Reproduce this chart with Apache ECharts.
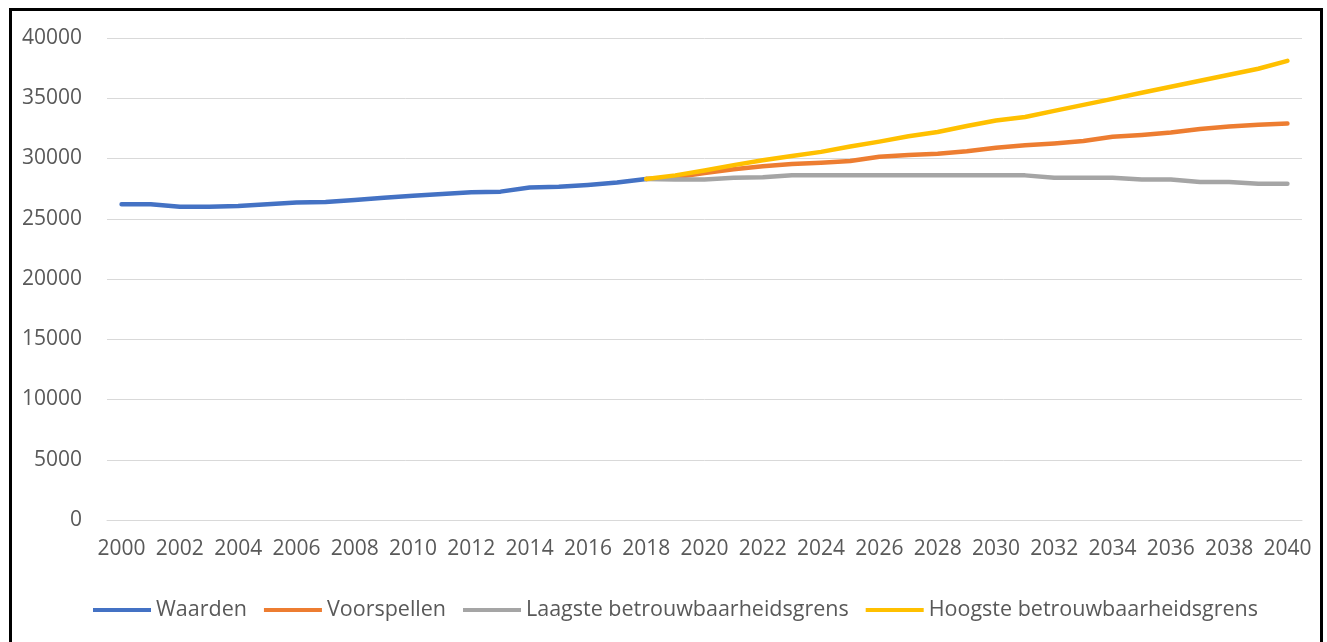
<!DOCTYPE html>
<html>
<head>
    <meta charset="UTF-8">
    <title>Waarden en voorspellingen</title>
    <script src="https://cdn.jsdelivr.net/npm/echarts@6/dist/echarts.min.js"></script>
    <style>
        html, body { margin: 0; padding: 0; background: #fff; }
        #main { position: absolute; left: 0; top: 0; width: 1327px; height: 642px; }
        #frame {
            position: absolute; left: 9px; top: 8px; width: 1308px; height: 660px;
            border: 3px solid #000; border-bottom: none; pointer-events: none;
        }
    </style>
</head>
<body>
<div id="main"></div>
<div id="frame"></div>
<script type="text/javascript">
    // jaren 2000 - 2040
    var years = [];
    for (var y = 2000; y <= 2040; y++) {
        years.push(String(y));
    }
    var seriesNames = ['Waarden', 'Voorspellen', 'Laagste betrouwbaarheidsgrens', 'Hoogste betrouwbaarheidsgrens'];

    // 2000 - 2018
    var waarden = [26200, 26200, 26000, 26000, 26050, 26200, 26350, 26400, 26550, 26750,
        26900, 27050, 27200, 27250, 27600, 27650, 27800, 28000, 28300];
    // 2018 - 2040
    var voorspellen = [28300, 28450, 28800, 29100, 29350, 29550, 29650, 29800, 30150, 30300,
        30400, 30600, 30900, 31100, 31250, 31450, 31800, 31950, 32150, 32450, 32650, 32800, 32900];
    var laagste = [28300, 28250, 28250, 28400, 28450, 28600, 28600, 28600, 28600, 28600,
        28600, 28600, 28600, 28600, 28400, 28400, 28400, 28250, 28250, 28050, 28050, 27900, 27900];
    var hoogste = [28300, 28600, 29000, 29450, 29850, 30200, 30550, 31000, 31400, 31850,
        32200, 32700, 33150, 33450, 33950, 34450, 34950, 35450, 35950, 36450, 36950, 37450, 38100];

    var kleuren = ['#4472C4', '#ED7D31', '#A5A5A5', '#FFC000'];

    // voorspellingen beginnen bij 2018 (index 18)
    function vanaf2018(arr) {
        var out = [];
        for (var i = 0; i < 18; i++) out.push(null);
        return out.concat(arr);
    }

    var myChart = echarts.init(document.getElementById('main'));
    var font = '"Open Sans", "Liberation Sans", sans-serif';

    function lijn(name, data, color) {
        return {
            name: name,
            type: 'line',
            data: data,
            symbol: 'none',
            lineStyle: {width: 4.5, color: color, cap: 'round', join: 'round'},
            itemStyle: {color: color}
        };
    }

    var option = {
        animation: false,
        backgroundColor: '#fff',
        grid: {
            left: 107,
            right: 25,
            top: 38,
            bottom: 122
        },
        legend: {
            data: seriesNames,
            left: 88,
            top: 594,
            itemWidth: 58,
            itemHeight: 4,
            itemGap: 17,
            icon: 'rect',
            textStyle: {
                fontFamily: font,
                fontSize: 21.5,
                color: '#595959'
            }
        },
        xAxis: {
            type: 'category',
            data: years,
            boundaryGap: true,
            axisLine: {lineStyle: {color: '#D9D9D9', width: 1}},
            axisTick: {show: false},
            axisLabel: {
                interval: 1,
                margin: 19,
                color: '#595959',
                fontFamily: font,
                fontSize: 21
            }
        },
        yAxis: {
            type: 'value',
            min: 0,
            max: 40000,
            interval: 5000,
            axisLine: {show: false},
            axisTick: {show: false},
            splitLine: {lineStyle: {color: '#D9D9D9', width: 1}},
            axisLabel: {
                margin: 25,
                color: '#595959',
                fontFamily: font,
                fontSize: 21,
                formatter: function (value) {
                    return String(value);
                }
            }
        },
        series: [
            lijn(seriesNames[0], waarden, kleuren[0]),
            lijn(seriesNames[1], vanaf2018(voorspellen), kleuren[1]),
            lijn(seriesNames[2], vanaf2018(laagste), kleuren[2]),
            lijn(seriesNames[3], vanaf2018(hoogste), kleuren[3])
        ]
    };
    myChart.setOption(option);
</script>
</body>
</html>
